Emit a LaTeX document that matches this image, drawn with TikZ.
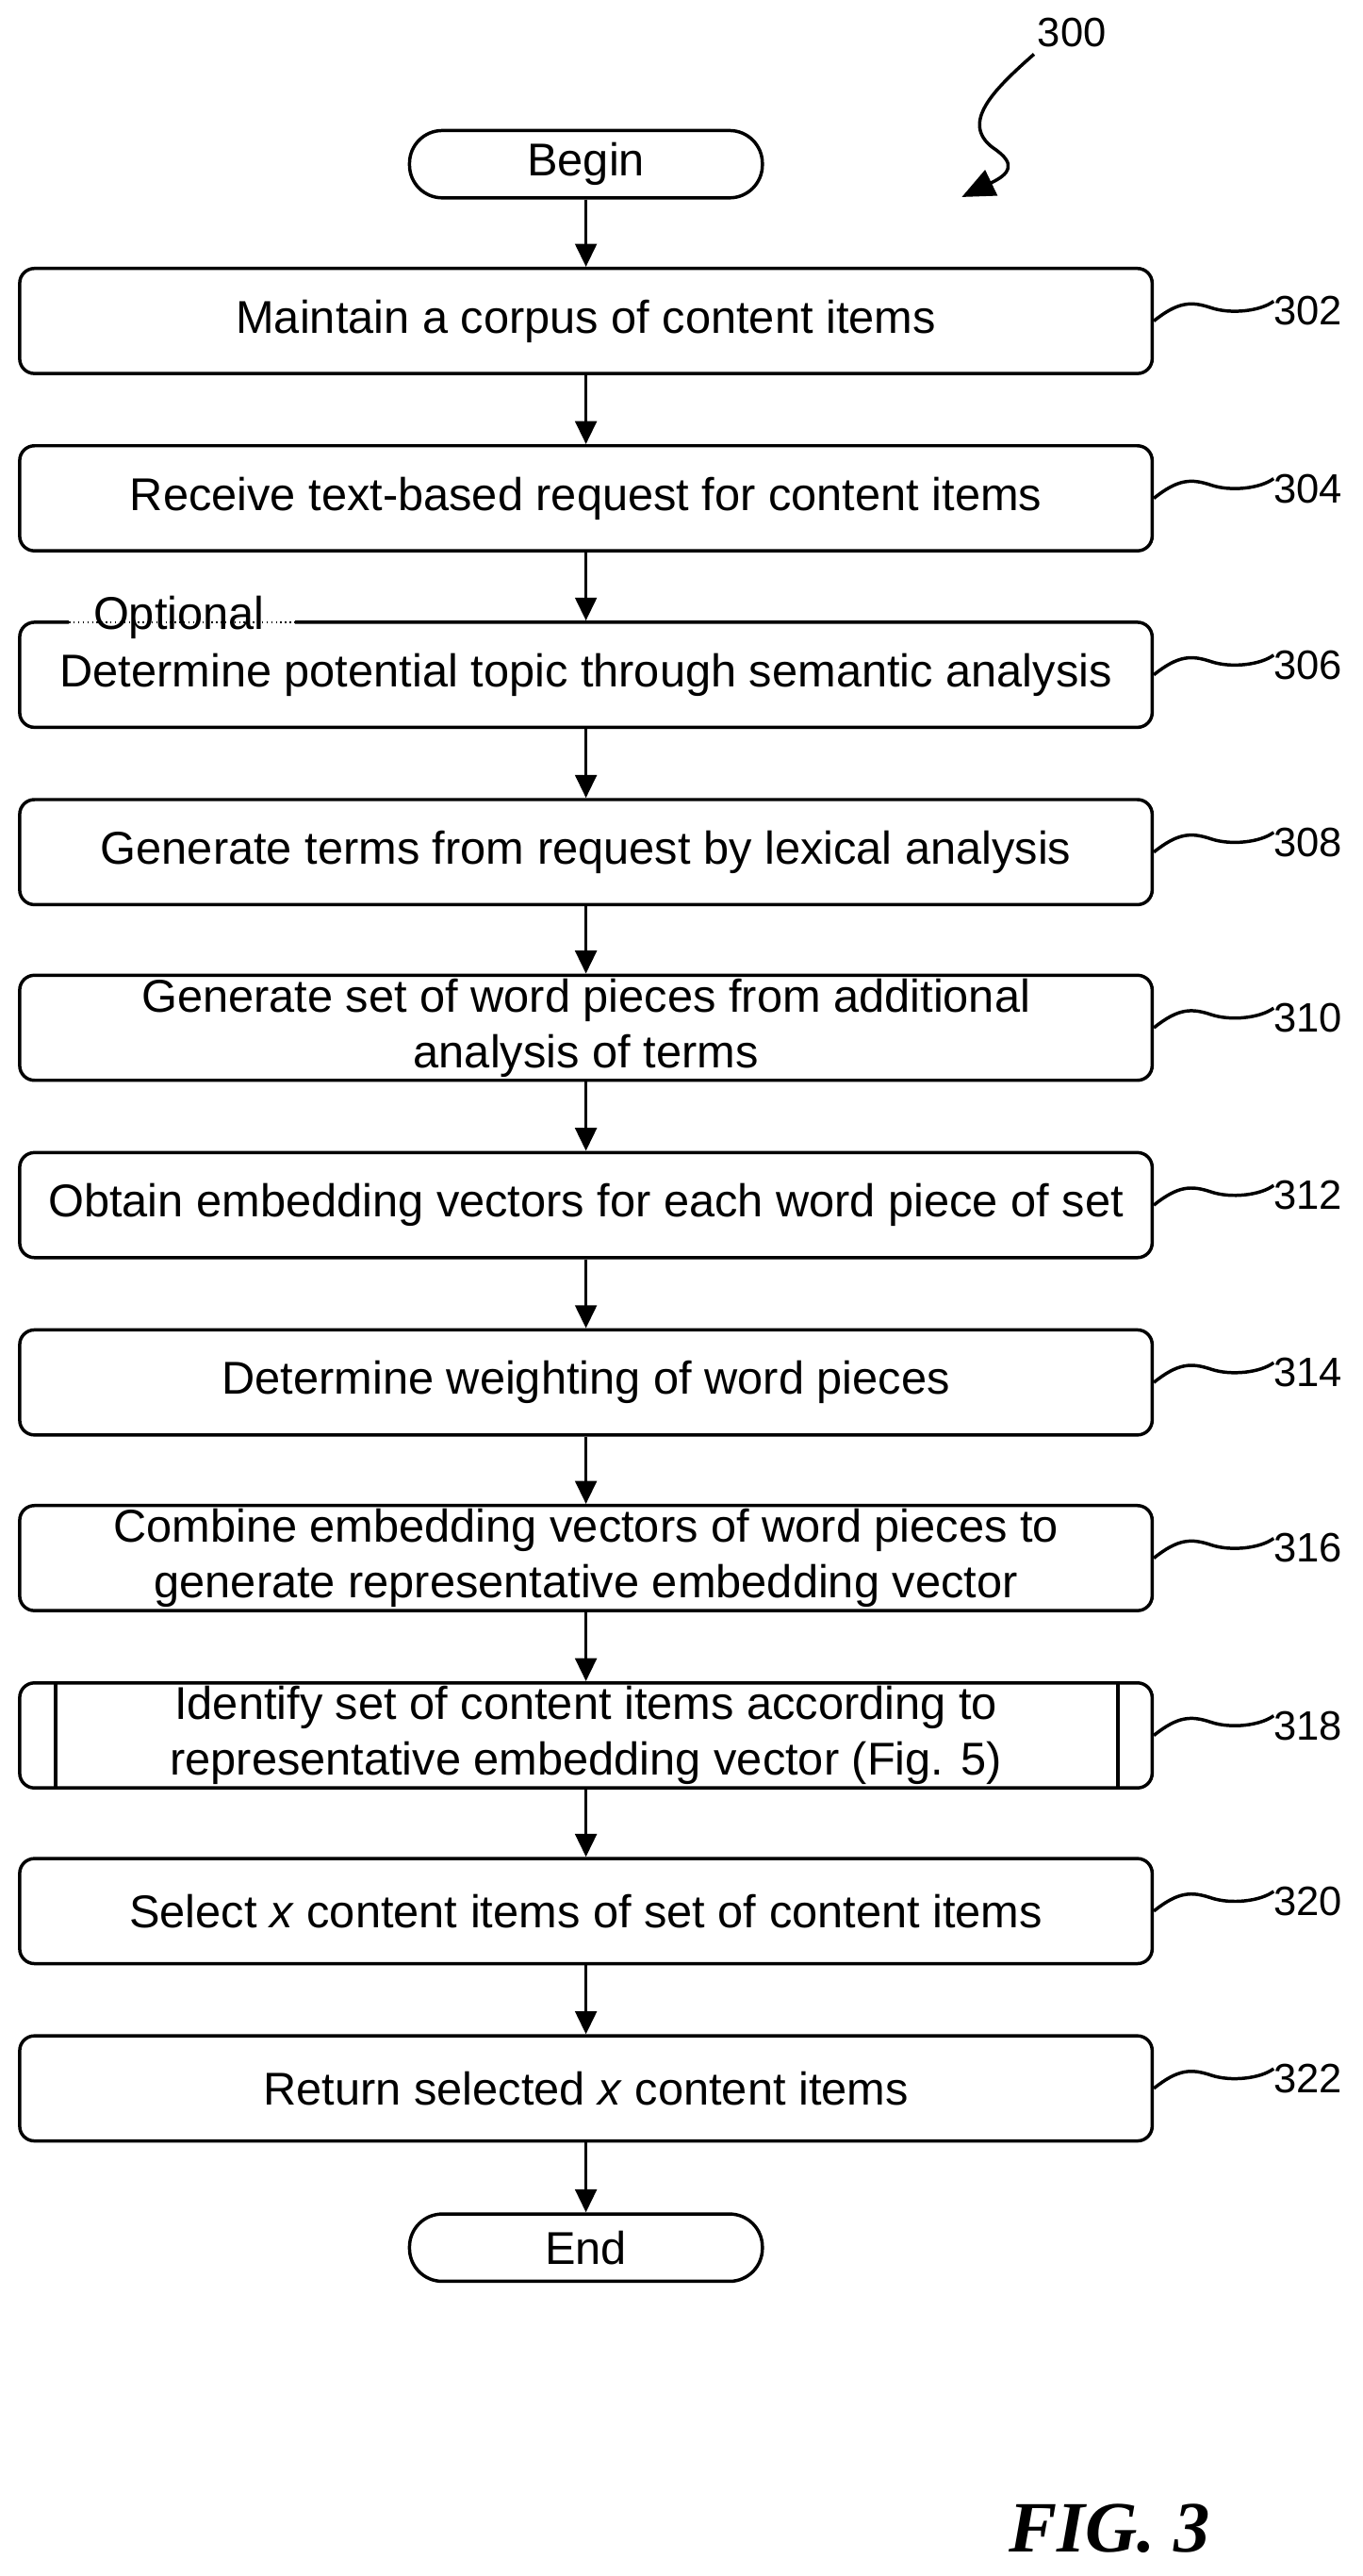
\documentclass[tikz,border=0pt]{standalone}
\usepackage{fontspec}
\setmainfont{Liberation Sans}
\newfontfamily\figfont{Liberation Serif}
\usetikzlibrary{arrows.meta}
\begin{document}
\begin{tikzpicture}[x=1pt,y=-1pt,
  box/.style={draw,line width=2pt,rounded corners=9pt,minimum width=690pt,minimum height=64pt,align=center,font=\fontsize{28}{34}\selectfont,inner sep=0pt},
  term/.style={draw,line width=2pt,rounded corners=20pt,minimum width=215pt,minimum height=41pt,font=\fontsize{28}{34}\selectfont,inner sep=0pt},
  arr/.style={line width=2pt,-{Triangle[length=14pt,width=13pt]}},
  sq/.style={line width=2pt},
  lab/.style={font=\fontsize{25}{30}\selectfont,anchor=west,inner sep=0pt}]
\useasboundingbox (0,0) rectangle (830,1569);
\node[term] (b) at (357,100) {Begin};
\node[box] (n302) at (357,195.5) {Maintain a corpus of content items};
\node[box] (n304) at (357,303.5) {Receive text-based request for content items};
\node[box] (n306) at (357,411) {Determine potential topic through semantic analysis};
\node[box] (n308) at (357,519) {Generate terms from request by lexical analysis};
\node[box] (n310) at (357,626) {Generate set of word pieces from additional\\analysis of terms};
\node[box] (n312) at (357,734) {Obtain embedding vectors for each word piece of set};
\node[box] (n314) at (357,842) {Determine weighting of word pieces};
\node[box] (n316) at (357,949) {Combine embedding vectors of word pieces to\\generate representative embedding vector};
\node[box] (n318) at (357,1057) {Identify set of content items according to\\representative embedding vector (Fig. 5)};
\draw[line width=2pt] ([xshift=23pt]n318.north west) -- ([xshift=23pt]n318.south west);
\draw[line width=2pt] ([xshift=-22pt]n318.north east) -- ([xshift=-22pt]n318.south east);
\node[box] (n320) at (357,1164) {Select \textit{x} content items of set of content items};
\node[box] (n322) at (357,1272) {Return selected \textit{x} content items};
\node[term] (e) at (357,1369) {End};
\foreach \a/\b in {b/n302,n302/n304,n304/n306,n306/n308,n308/n310,n310/n312,n312/n314,n314/n316,n316/n318,n318/n320,n320/n322,n322/e}
  \draw[arr] (\a) -- (\b);
% Optional
\coordinate (o1) at (42,379);
\coordinate (o2) at (180,379);
\draw[white,line width=3pt] (o1) -- (o2);
\draw[line width=0.8pt,dotted] (o1) -- (o2);
\node[font=\fontsize{28}{34}\selectfont,inner sep=0pt] (opt) at (109,376) {Optional};
% reference squiggles
\foreach \n/\t in {n302/302,n304/304,n306/306,n308/308,n310/310,n312/312,n314/314,n316/316,n318/318,n320/320,n322/322}{
  \draw[sq] (\n.east) .. controls +(15,-12) and +(-12,-4) .. ++(35,-8) .. controls +(12,4) and +(-8,6) .. ++(38,-4) coordinate (c\t);
  \node[lab] (l\t) at ([xshift=0pt,yshift=-6pt]c\t) {\t};
}
\node[lab] (l300) at (632,20) {300};
\coordinate (s300) at (630,33);
\coordinate (t300) at (586,120);
\draw[line width=2pt,-{Triangle[length=20pt,width=17pt]}] (s300) .. controls (605,55) and (585,75) .. (605,90) .. controls (620,100) and (615,106) .. (t300);
\node[font=\figfont\bfseries\itshape\fontsize{44}{52}\selectfont,inner sep=0pt] (fig) at (676,1540) {FIG. 3};
\end{tikzpicture}
\end{document}
